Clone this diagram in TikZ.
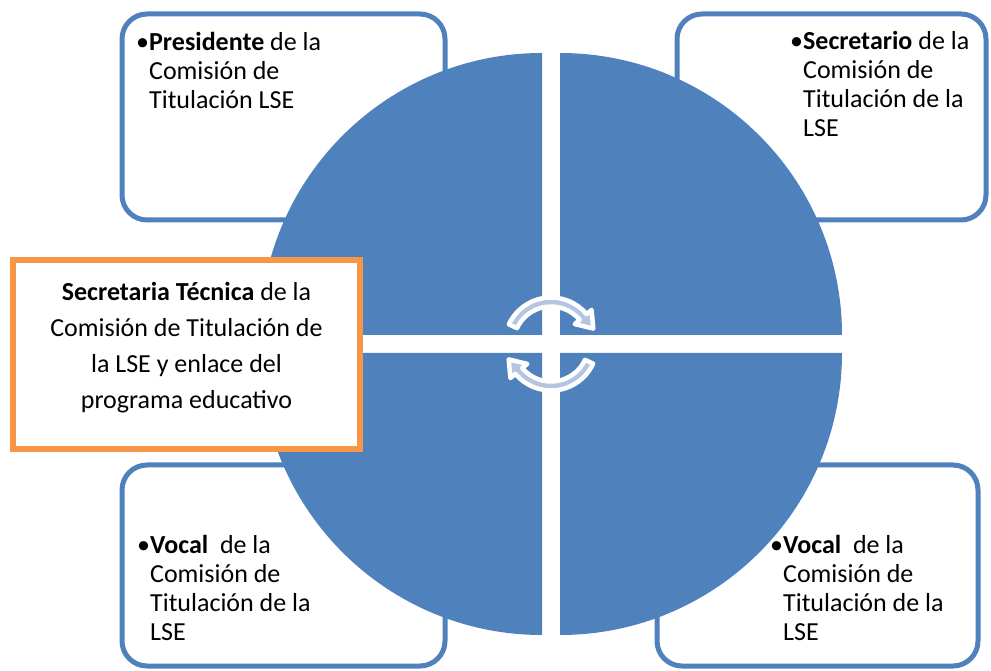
\documentclass[tikz,border=0pt]{standalone}
\usepackage{fontspec}
\setmainfont{Carlito}
\usepackage{tikz}
\usetikzlibrary{positioning,calc}

\definecolor{quadblue}{RGB}{79,129,189}
\definecolor{techorange}{RGB}{247,150,70}
\definecolor{arrowblue}{RGB}{180,196,226}
\newcommand{\bulletlines}[1]{\textbullet\begin{tabular}[t]{@{}l@{}}#1\end{tabular}}

\begin{document}
\begin{tikzpicture}[x=1pt, y=1pt,
    rolebox/.style={draw=quadblue, line width=5pt, fill=white, rounded corners=25pt, inner sep=0pt, outer sep=0pt},
    roletext/.style={anchor=base west, inner sep=0pt, font=\fontsize{26}{29}\selectfont},
    quadrant/.style={fill=quadblue},
    cyclearrow/.style={fill=arrowblue, draw=white, line width=4.5pt, line join=round},
    techbox/.style={draw=techorange, line width=6pt, fill=white, minimum width=347pt, minimum height=189pt},
    techtext/.style={align=center, inner sep=0pt, font=\fontsize{26}{36}\selectfont}]

    \useasboundingbox (0,0) rectangle (991,670);

    % Members
    \node[rolebox, minimum width=323pt, minimum height=206pt] (pres) at (283.5,553) {};
    \node[rolebox, minimum width=309pt, minimum height=206pt] (secr) at (831.5,553) {};
    \node[rolebox, minimum width=323pt, minimum height=201pt] (vocala) at (283.5,104.5) {};
    \node[rolebox, minimum width=321pt, minimum height=201pt] (vocalb) at (817.5,104.5) {};

    \node[roletext] (prestext) at ([xshift=14pt, yshift=-37pt]pres.north west) {\bulletlines{\textbf{Presidente} de la\\ Comisión de\\ Titulación LSE}};
    \node[roletext] (secrtext) at ([xshift=113pt, yshift=-36pt]secr.north west) {\bulletlines{\textbf{Secretario} de la\\ Comisión de\\ Titulación de la\\ LSE}};
    \node[roletext] (vocalatext) at ([xshift=15pt, yshift=-88pt]vocala.north west) {\bulletlines{\textbf{Vocal}~ de la\\ Comisión de\\ Titulación de la\\ LSE}};
    \node[roletext] (vocalbtext) at ([xshift=113pt, yshift=-88pt]vocalb.north west) {\bulletlines{\textbf{Vocal}~ de la\\ Comisión de\\ Titulación de la\\ LSE}};

    % Circle
    \foreach \cx/\cy/\a in {542/335/90, 560/335/0, 560/317/-90, 542/317/180}
        \fill[quadrant] (\cx,\cy) -- ++(\a:282) arc[start angle=\a, end angle=\a+90, radius=282] -- cycle;

    % Cycle arrows
    \coordinate (hub) at (551,326);
    \foreach \r in {0,180}
        \filldraw[cyclearrow, shift={(hub)}, rotate=\r] (155:46.5) arc[start angle=155, end angle=40, radius=46.5]
            -- (40:53) -- (20:45) -- (40:31) -- (40:37.5) arc[start angle=40, end angle=155, radius=37.5] -- cycle;

    % Technical secretary
    \node[techbox] (tech) at (186.5,315.5) {};
    \node[techtext] (techlabel) at ([yshift=7pt]tech.center) {\textbf{Secretaria Técnica} de la\\ Comisión de Titulación de\\ la LSE y enlace del\\ programa educativo};
\end{tikzpicture}
\end{document}
